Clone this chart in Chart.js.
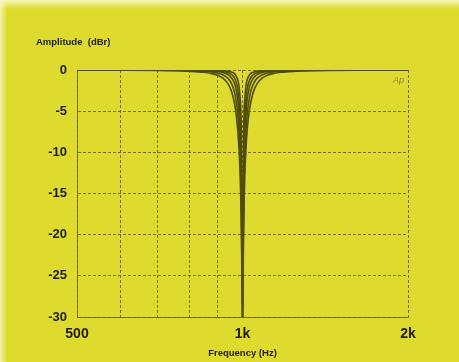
<!DOCTYPE html>
<html>
<head>
<meta charset="utf-8">
<script src="https://cdn.jsdelivr.net/npm/chart.js@4.4.1/dist/chart.umd.min.js"></script>
<style>
  html, body { margin: 0; padding: 0; background: #dedb2e; }
  #wrap { width: 459px; height: 362px; position: relative; }
</style>
</head>
<body>
<div id="wrap"><canvas id="c" width="459" height="362"></canvas></div>
<script>
// Frequency points (Hz) of the notch sweep
const freqHz = [500, 600, 700, 750, 800, 850, 880, 900, 920, 940, 950, 960, 970, 980, 985, 990, 995,
  1000,
  1005, 1010, 1015, 1020, 1031, 1042, 1053, 1064, 1087, 1111, 1136, 1176, 1250, 1333, 1429, 1667, 2000];

// Amplitude (dBr) for each notch setting, widest to narrowest
const notchQ12 = [-0.01, -0.03, -0.06, -0.09, -0.15, -0.27, -0.44, -0.63, -0.97, -1.62, -2.20, -3.10, -4.58, -7.21, -9.35, -12.60, -18.46,
  -30,
  -18.46, -12.60, -9.35, -7.21, -4.58, -3.10, -2.20, -1.62, -0.97, -0.63, -0.44, -0.27, -0.15, -0.09, -0.06, -0.03, -0.01];
const notchQ16 = [-0.01, -0.02, -0.03, -0.05, -0.08, -0.16, -0.25, -0.37, -0.57, -0.99, -1.37, -2.00, -3.12, -5.31, -7.22, -10.28, -16.01,
  -30,
  -16.01, -10.28, -7.22, -5.31, -3.12, -2.00, -1.37, -0.99, -0.57, -0.37, -0.25, -0.16, -0.08, -0.05, -0.03, -0.02, -0.01];
const notchQ22 = [0, -0.01, -0.02, -0.03, -0.04, -0.08, -0.13, -0.20, -0.31, -0.55, -0.78, -1.17, -1.92, -3.55, -5.13, -7.86, -13.34,
  -30,
  -13.34, -7.86, -5.13, -3.55, -1.92, -1.17, -0.78, -0.55, -0.31, -0.20, -0.13, -0.08, -0.04, -0.03, -0.02, -0.01, 0];
const notchQ30 = [0, 0, -0.01, -0.01, -0.02, -0.05, -0.07, -0.11, -0.17, -0.30, -0.44, -0.67, -1.14, -2.25, -3.46, -5.74, -10.81,
  -30,
  -10.81, -5.74, -3.46, -2.25, -1.14, -0.67, -0.44, -0.30, -0.17, -0.11, -0.07, -0.05, -0.02, -0.01, -0.01, 0, 0];
const notchQ45 = [0, 0, 0, -0.01, -0.01, -0.02, -0.03, -0.05, -0.08, -0.14, -0.20, -0.31, -0.54, -1.15, -1.88, -3.47, -7.72,
  -30,
  -7.72, -3.47, -1.88, -1.15, -0.54, -0.31, -0.20, -0.14, -0.08, -0.05, -0.03, -0.02, -0.01, -0.01, 0, 0, 0];

// Grid positions and axis labels
const xGridHz = [500, 600, 700, 800, 900, 1000, 2000];
const xTickLabels = { 500: '500', 1000: '1k', 2000: '2k' };
const yMin = -30, yMax = 0, yStep = 5;

const seriesList = [notchQ12, notchQ16, notchQ22, notchQ30, notchQ45];

const ink = '#4f4c0d';
const gridInk = 'rgba(100, 90, 35, 0.85)';
const labelFont = '"Liberation Sans", Arial, sans-serif';

const datasets = seriesList.map(vals => ({
  data: freqHz.map((f, i) => ({ x: f, y: vals[i] })),
  borderColor: ink,
  borderWidth: 1.6,
  pointRadius: 0,
  fill: false,
  cubicInterpolationMode: 'monotone'
}));

const pagePaint = {
  id: 'pagePaint',
  beforeDraw(chart) {
    const ctx = chart.ctx;
    ctx.save();
    ctx.fillStyle = '#dedb2e';
    ctx.fillRect(0, 0, chart.width, chart.height);
    // paler paper edge along the top and left
    let g = ctx.createLinearGradient(0, 0, 0, 9);
    g.addColorStop(0, 'rgba(250, 248, 200, 0.9)');
    g.addColorStop(1, 'rgba(250, 248, 200, 0)');
    ctx.fillStyle = g;
    ctx.fillRect(0, 0, chart.width, 9);
    g = ctx.createLinearGradient(0, 0, 7, 0);
    g.addColorStop(0, 'rgba(250, 248, 200, 0.8)');
    g.addColorStop(1, 'rgba(250, 248, 200, 0)');
    ctx.fillStyle = g;
    ctx.fillRect(0, 0, 7, chart.height);
    ctx.restore();
  },
  afterDraw(chart) {
    const ctx = chart.ctx;
    const a = chart.chartArea;
    ctx.save();
    ctx.fillStyle = '#1e1d10';
    ctx.font = 'bold 9.5px ' + labelFont;
    ctx.textBaseline = 'middle';
    ctx.textAlign = 'left';
    ctx.fillText('Amplitude  (dBr)', 36, 42);
    ctx.fillStyle = '#8d8a3a';
    ctx.font = 'italic 9px ' + labelFont;
    ctx.textAlign = 'right';
    ctx.fillText('Ap', a.right - 4, a.top + 10);
    ctx.restore();
  }
};

new Chart(document.getElementById('c'), {
  type: 'line',
  data: { datasets },
  options: {
    responsive: false,
    animation: false,
    layout: { padding: { left: 0, right: 51, top: 70, bottom: 0 } },
    plugins: { legend: { display: false }, tooltip: { enabled: false }, title: { display: false } },
    scales: {
      x: {
        type: 'logarithmic',
        min: 500, max: 2000,
        afterBuildTicks(scale) { scale.ticks = xGridHz.map(v => ({ value: v })); },
        afterFit(scale) { scale.height = 45; },
        ticks: {
          autoSkip: false, maxRotation: 0, padding: 9,
          color: '#1e1d10',
          font: { family: labelFont, size: 14, weight: 'bold' },
          callback: v => xTickLabels[v] || ''
        },
        grid: { color: gridInk, lineWidth: 1, drawTicks: false },
        border: { display: true, color: gridInk, dash: [3, 2] },
        title: {
          display: true, text: 'Frequency (Hz)', color: '#1e1d10',
          font: { family: labelFont, size: 9.5, weight: 'bold' },
          padding: { top: 0, bottom: 3 }
        }
      },
      y: {
        min: yMin, max: yMax,
        afterFit(scale) { scale.width = 77; },
        ticks: {
          stepSize: yStep, padding: 10,
          color: '#1e1d10',
          font: { family: labelFont, size: 13, weight: 'bold' }
        },
        grid: { color: gridInk, lineWidth: 1, drawTicks: false },
        border: { display: true, color: gridInk, dash: [3, 2] }
      }
    }
  },
  plugins: [pagePaint]
});
</script>
</body>
</html>
